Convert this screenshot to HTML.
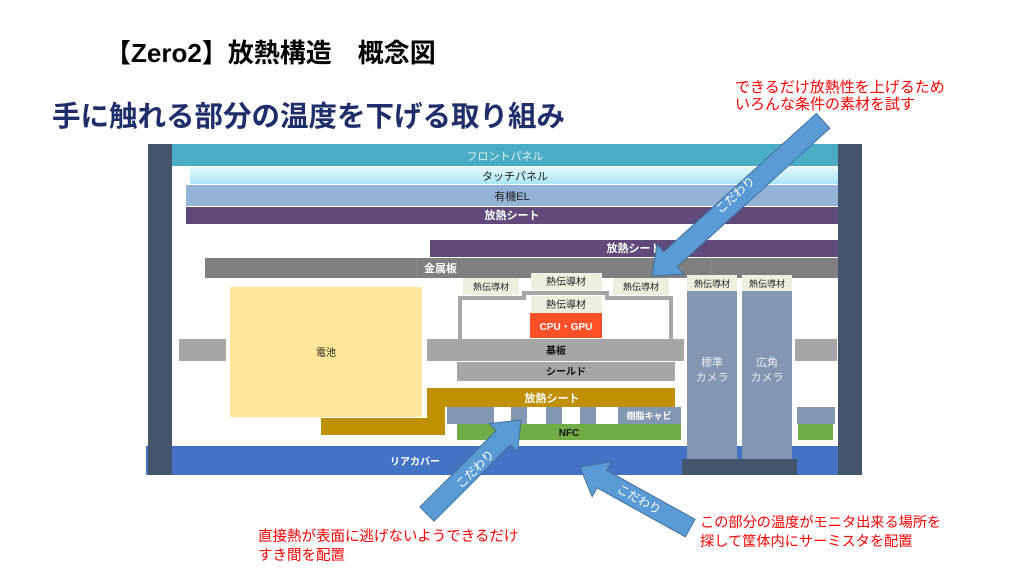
<!DOCTYPE html>
<html><head><meta charset="utf-8"><style>
html,body{margin:0;padding:0;background:#fff;}
svg{display:block;}
text{font-family:"Liberation Sans","Noto Sans CJK JP",sans-serif;}
</style></head><body>
<svg width="1024" height="576" viewBox="0 0 1024 576" xmlns="http://www.w3.org/2000/svg">
<defs>
<linearGradient id="tg" x1="0" y1="0" x2="0" y2="1"><stop offset="0" stop-color="#e4f8fc"/><stop offset="1" stop-color="#a9e6f4"/></linearGradient>
</defs>
<rect width="1024" height="576" fill="#fff"/>
<text x="105" y="62" font-size="26" font-weight="bold" fill="#000">【Zero2】放熱構造　概念図</text>
<text x="52" y="126" font-size="28.5" font-weight="bold" fill="#1f2d6b">手に触れる部分の温度を下げる取り組み</text>

<!-- layers -->
<rect x="172" y="144" width="666" height="22" fill="#4bacc6"/>
<text x="505" y="160" font-size="11" fill="#dff3f8" text-anchor="middle">フロントパネル</text>
<rect x="190" y="167" width="648" height="17" fill="url(#tg)"/>
<text x="515" y="180" font-size="11" fill="#222" text-anchor="middle">タッチパネル</text>
<rect x="186" y="185" width="652" height="21" fill="#95b3d7"/>
<text x="512" y="200" font-size="11" fill="#222" text-anchor="middle">有機EL</text>
<rect x="186" y="207" width="652" height="17" fill="#604a7b"/>
<text x="512" y="219" font-size="11" font-weight="bold" fill="#fff" text-anchor="middle">放熱シート</text>
<rect x="430" y="240" width="408" height="17" fill="#604a7b"/>
<text x="634" y="252" font-size="11" font-weight="bold" fill="#fff" text-anchor="middle">放熱シート</text>
<rect x="205" y="258" width="633" height="20" fill="#7f7f7f"/>
<line x1="417" y1="258" x2="417" y2="278" stroke="#909090"/>
<line x1="711" y1="258" x2="711" y2="278" stroke="#909090"/>
<text x="424" y="272" font-size="11" font-weight="bold" fill="#fff">金属板</text>

<!-- thermal pads -->
<rect x="463" y="278" width="56" height="17" fill="#ebf1de"/>
<text x="491" y="290" font-size="9" fill="#222" text-anchor="middle">熱伝導材</text>
<rect x="613" y="278" width="56" height="17" fill="#ebf1de"/>
<text x="641" y="290" font-size="9" fill="#222" text-anchor="middle">熱伝導材</text>
<path d="M460,339 V298 H524 V293 H607 V298 H671 V339" fill="none" stroke="#a6a6a6" stroke-width="4"/>
<rect x="531" y="273" width="71" height="17" fill="#ebf1de"/>
<text x="566" y="285" font-size="10" fill="#222" text-anchor="middle">熱伝導材</text>
<rect x="531" y="296" width="71" height="17" fill="#ebf1de"/>
<text x="566" y="308" font-size="10" fill="#222" text-anchor="middle">熱伝導材</text>
<rect x="530" y="313" width="72" height="25" fill="#fc5028"/>
<text x="566" y="330" font-size="10" font-weight="bold" fill="#fff" text-anchor="middle">CPU・GPU</text>

<!-- board -->
<rect x="179" y="339" width="47" height="22" fill="#a6a6a6"/>
<rect x="427" y="339" width="257" height="22" fill="#a6a6a6"/>
<text x="556" y="354" font-size="10" font-weight="bold" fill="#111" text-anchor="middle">基板</text>
<rect x="795" y="339" width="42" height="22" fill="#a6a6a6"/>
<rect x="457" y="362" width="218" height="19" fill="#a6a6a6"/>
<text x="566" y="375" font-size="10" font-weight="bold" fill="#111" text-anchor="middle">シールド</text>

<!-- battery -->
<rect x="230" y="287" width="192" height="130" fill="#ffe699"/>
<text x="326" y="356" font-size="10" fill="#222" text-anchor="middle">電池</text>

<!-- gold sheet -->
<path d="M427,388 H675 V407 H445 V435 H321 V418 H427 Z" fill="#bf9000"/>
<text x="552" y="402" font-size="11" font-weight="bold" fill="#fff" text-anchor="middle">放熱シート</text>

<!-- resin cavity -->
<rect x="447" y="407" width="47" height="17" fill="#8497b0"/>
<rect x="511" y="407" width="16" height="17" fill="#8497b0"/>
<rect x="546" y="407" width="16" height="17" fill="#8497b0"/>
<rect x="580" y="407" width="16" height="17" fill="#8497b0"/>
<rect x="618" y="407" width="63" height="17" fill="#8497b0"/>
<text x="649" y="419" font-size="9" font-weight="bold" fill="#fff" text-anchor="middle">樹脂キャビ</text>
<rect x="797" y="407" width="38" height="17" fill="#8497b0"/>
<rect x="457" y="424" width="224" height="16" fill="#70ad47"/>
<text x="569" y="436" font-size="10" font-weight="bold" fill="#111" text-anchor="middle">NFC</text>
<rect x="798" y="424" width="35" height="16" fill="#70ad47"/>

<!-- rear cover -->
<rect x="146" y="446" width="692" height="29" fill="#4472c4"/>
<text x="415" y="465" font-size="10" font-weight="bold" fill="#fff" text-anchor="middle">リアカバー</text>

<!-- cameras -->
<rect x="687" y="275" width="50" height="16" fill="#ebf1de"/>
<text x="712" y="287" font-size="9" fill="#222" text-anchor="middle">熱伝導材</text>
<rect x="742" y="275" width="50" height="16" fill="#ebf1de"/>
<text x="767" y="287" font-size="9" fill="#222" text-anchor="middle">熱伝導材</text>
<rect x="687" y="291" width="50" height="171" fill="#8497b0"/>
<rect x="742" y="291" width="50" height="171" fill="#8497b0"/>
<text x="712" y="366" font-size="11" fill="#e8edf3" text-anchor="middle">標準</text>
<text x="712" y="381" font-size="11" fill="#e8edf3" text-anchor="middle">カメラ</text>
<text x="767" y="366" font-size="11" fill="#e8edf3" text-anchor="middle">広角</text>
<text x="767" y="381" font-size="11" fill="#e8edf3" text-anchor="middle">カメラ</text>
<rect x="682" y="459" width="115" height="16" fill="#44546a"/>

<!-- frame sides -->
<rect x="148" y="144" width="24" height="331" fill="#44546a"/>
<rect x="838" y="144" width="24" height="331" fill="#44546a"/>

<!-- arrows -->
<g transform="translate(652,276) rotate(137.8)">
<polygon points="0,0 -25,-20 -25,-10 -231,-10 -231,10 -25,10 -25,20" fill="#5b9bd5" stroke="#41719c" stroke-width="1"/>
</g>
<text transform="translate(738,198) rotate(-42)" font-size="12" fill="#fff" text-anchor="middle">こだわり</text>
<g transform="translate(521,420) rotate(-45)">
<polygon points="0,0 -25,-20 -25,-10 -133,-10 -133,10 -25,10 -25,20" fill="#5b9bd5" stroke="#41719c" stroke-width="1"/>
</g>
<text transform="translate(478,472) rotate(-45)" font-size="12" fill="#fff" text-anchor="middle">こだわり</text>
<g transform="translate(580,467) rotate(-151)">
<polygon points="0,0 -25,-20 -25,-10 -126,-10 -126,10 -25,10 -25,20" fill="#5b9bd5" stroke="#41719c" stroke-width="1"/>
</g>
<text transform="translate(637,503) rotate(29)" font-size="12" fill="#fff" text-anchor="middle">こだわり</text>

<!-- red notes -->
<text x="735" y="92" font-size="15" fill="#ff0000">できるだけ放熱性を上げるため</text>
<text x="735" y="109" font-size="15" fill="#ff0000">いろんな条件の素材を試す</text>
<text x="258" y="541" font-size="14.5" fill="#ff0000">直接熱が表面に逃げないようできるだけ</text>
<text x="258" y="560" font-size="14.5" fill="#ff0000">すき間を配置</text>
<text x="700" y="527" font-size="14.2" fill="#ff0000">この部分の温度がモニタ出来る場所を</text>
<text x="700" y="546" font-size="14.2" fill="#ff0000">探して筐体内にサーミスタを配置</text>
</svg>
</body></html>
